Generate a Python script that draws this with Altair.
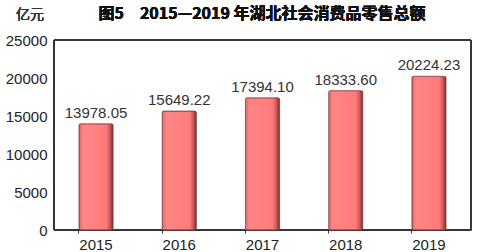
import altair as alt
import pandas as pd

years = ["2015", "2016", "2017", "2018", "2019"]
sales = [13978.05, 15649.22, 17394.10, 18333.60, 20224.23]
labels = ["13978.05", "15649.22", "17394.10", "18333.60", "20224.23"]
y_ticks = [0, 5000, 10000, 15000, 20000, 25000]

df = pd.DataFrame({"year": years, "sales": sales, "label": labels})

FONT = "Liberation Sans"
CJK = "Noto Sans CJK SC"

x_enc = alt.X(
    "year:N",
    sort=years,
    scale=alt.Scale(paddingInner=0.59, paddingOuter=0.3),
    axis=alt.Axis(
        title=None, labelAngle=0, labelFont=FONT, labelFontSize=15,
        labelColor="#222", labelPadding=4, domainColor="#333", tickColor="#333",
        tickSize=3, bandPosition=0, grid=False,
    ),
)
y_enc = alt.Y(
    "sales:Q",
    scale=alt.Scale(domain=[0, 25000], nice=False),
    axis=alt.Axis(
        title=None, values=y_ticks, format="d", labelOverlap=False,
        labelFont=FONT, labelFontSize=15, labelColor="#222", labelPadding=7,
        domainColor="#333", ticks=False, grid=False,
    ),
)

bar_fill = alt.Gradient(
    gradient="linear", x1=0, x2=1, y1=0, y2=0,
    stops=[
        alt.GradientStop(offset=0, color="#d86a6a"),
        alt.GradientStop(offset=0.12, color="#ff8585"),
        alt.GradientStop(offset=0.8, color="#ff7b7b"),
        alt.GradientStop(offset=0.92, color="#c45555"),
        alt.GradientStop(offset=1, color="#6e2a2a"),
    ],
)

bars = alt.Chart(df).mark_bar(
    color=bar_fill, stroke="#8a3c3c", strokeWidth=0.8, cornerRadius=1.5
).encode(x=x_enc, y=y_enc)

values = alt.Chart(df).mark_text(
    font=FONT, fontSize=15, color="#333", baseline="bottom", dy=-3
).encode(x=x_enc, y=y_enc, text="label:N")

unit = alt.Chart(df).mark_text(
    font=CJK, fontSize=14, fontWeight="normal", color="#333",
    align="center", baseline="middle"
).encode(x=alt.value(-24), y=alt.value(-25), text=alt.value("亿元"))

title = alt.Chart(df).mark_text(
    font=CJK, fontSize=16, fontWeight="bold", color="#111",
    align="center", baseline="middle"
).encode(x=alt.value(208), y=alt.value(-26),
         text=alt.value("图5　2015—2019 年湖北社会消费品零售总额"))

frame = alt.Chart(df).mark_rect(
    fill=None, stroke="#333", strokeWidth=1
).encode(x=alt.value(0), x2=alt.value(417), y=alt.value(0), y2=alt.value(190))

chart = (
    alt.layer(frame, bars, values, unit, title)
    .properties(
        width=417,
        height=190,
        autosize="none",
        padding={"left": 54, "top": 40, "right": 6, "bottom": 22},
    )
    .configure_view(stroke=None)
)

chart.save("out.html", embed_options={"renderer": "svg", "actions": False})
